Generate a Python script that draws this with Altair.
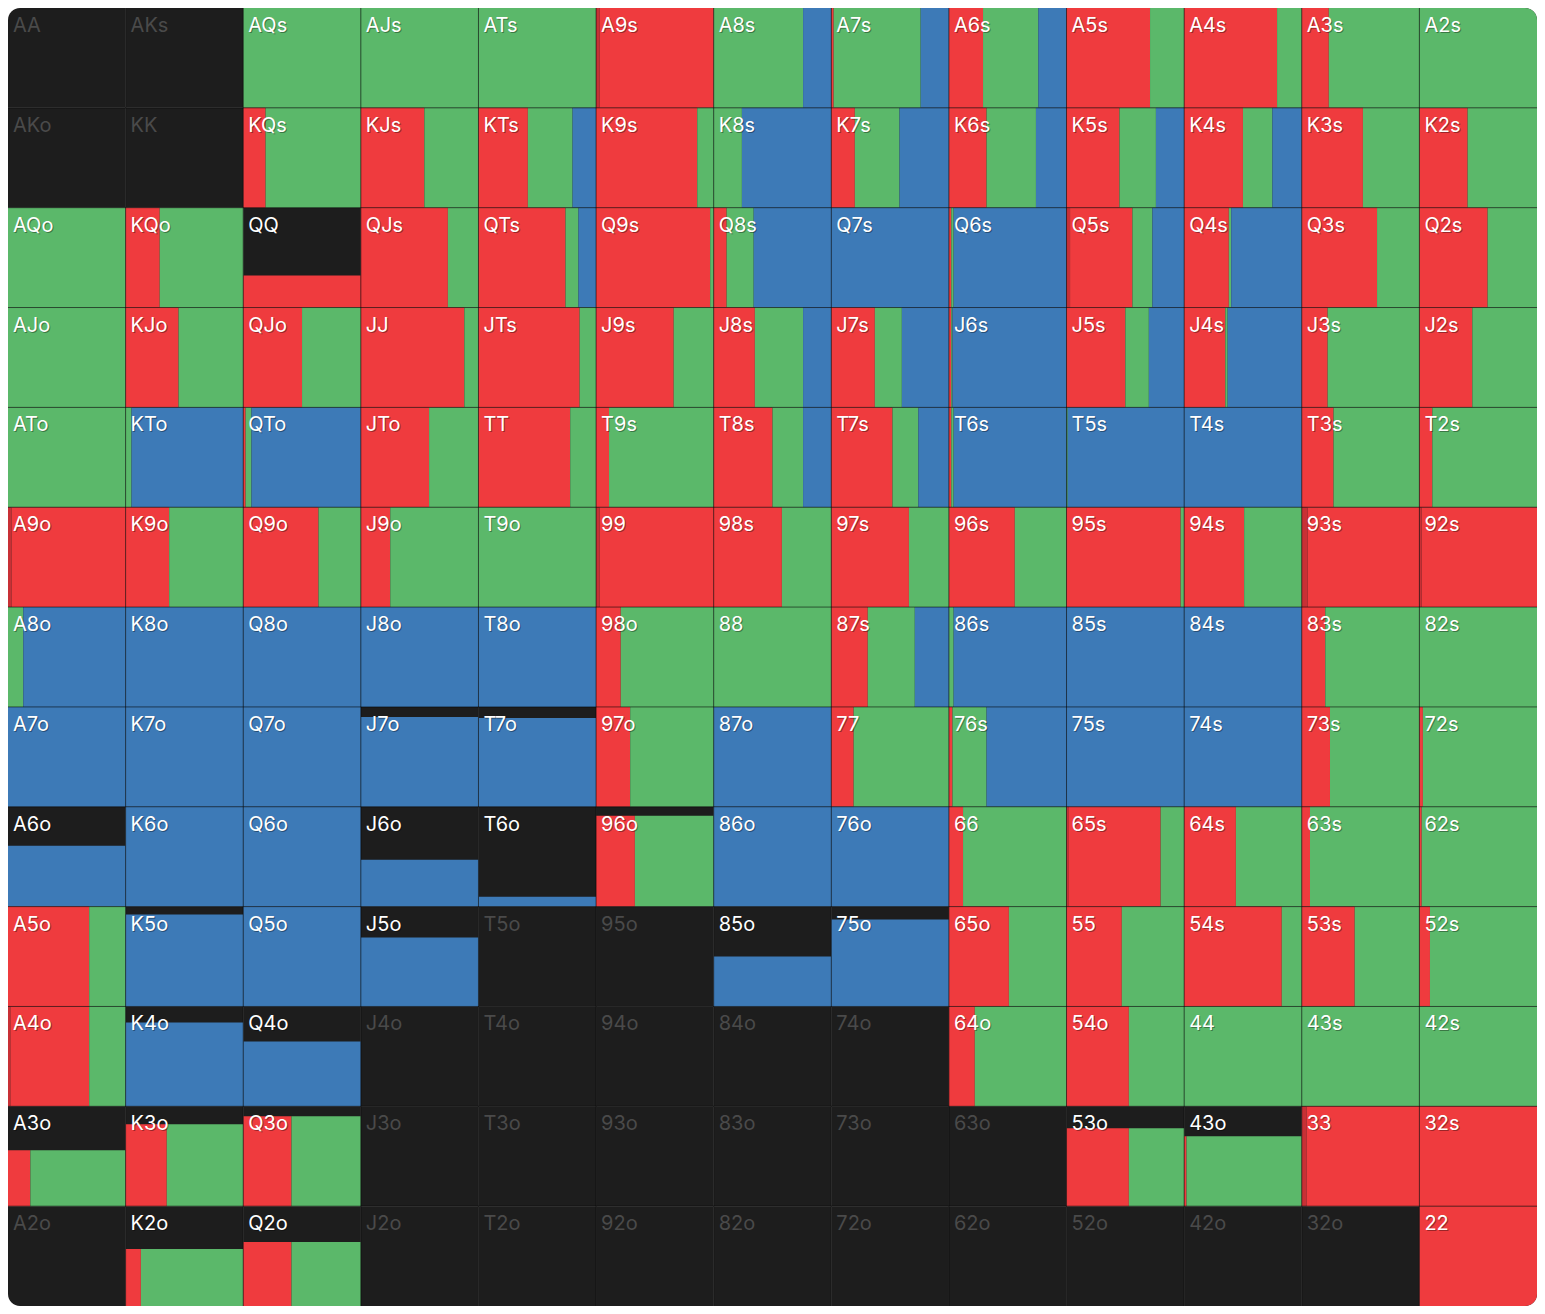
import altair as alt
import pandas as pd

RANKS = list("AKQJT98765432")

# percent of the cell height that is in range (coloured part, from bottom)
WEIGHT = [
    [0, 0, 100, 100, 100, 100, 100, 100, 100, 100, 100, 100, 100],
    [0, 0, 100, 100, 100, 100, 100, 100, 100, 100, 100, 100, 100],
    [100, 100, 32, 100, 100, 100, 100, 100, 100, 100, 100, 100, 100],
    [100, 100, 100, 100, 100, 100, 100, 100, 100, 100, 100, 100, 100],
    [100, 100, 100, 100, 100, 100, 100, 100, 100, 100, 100, 100, 100],
    [100, 100, 100, 100, 100, 100, 100, 100, 100, 100, 100, 100, 100],
    [100, 100, 100, 100, 100, 100, 100, 100, 100, 100, 100, 100, 100],
    [100, 100, 100, 90, 89, 100, 100, 100, 100, 100, 100, 100, 100],
    [61, 100, 100, 47, 10, 91, 100, 100, 100, 100, 100, 100, 100],
    [100, 92, 100, 69, 0, 0, 50, 87, 100, 100, 100, 100, 100],
    [100, 84, 65, 0, 0, 0, 0, 0, 100, 100, 100, 100, 100],
    [56, 82, 90, 0, 0, 0, 0, 0, 0, 78, 70, 100, 100],
    [0, 57, 64, 0, 0, 0, 0, 0, 0, 0, 0, 0, 100],
]

# action mix (percent of the coloured width), left to right
ALLIN = [
    [0, 0, 0, 0, 0, 3, 0, 0, 0, 0, 0, 0, 0],
    [0, 0, 0, 0, 0, 0, 0, 0, 0, 0, 0, 0, 0],
    [0, 0, 0, 0, 0, 0, 0, 0, 0, 3, 0, 0, 0],
    [0, 0, 0, 0, 0, 0, 0, 0, 0, 0, 0, 0, 0],
    [0, 0, 0, 0, 0, 0, 0, 0, 0, 0, 0, 0, 0],
    [3, 0, 0, 0, 0, 3, 0, 0, 0, 0, 0, 5, 2],
    [0, 0, 0, 0, 0, 0, 0, 0, 0, 0, 0, 0, 0],
    [0, 0, 0, 0, 0, 0, 0, 0, 0, 0, 0, 0, 0],
    [0, 0, 0, 0, 0, 0, 0, 0, 0, 2, 0, 0, 0],
    [0, 0, 0, 0, 0, 0, 0, 0, 0, 0, 0, 0, 0],
    [2, 0, 0, 0, 0, 0, 0, 0, 0, 0, 0, 0, 0],
    [0, 0, 0, 0, 0, 0, 0, 0, 0, 0, 0, 4, 0],
    [0, 0, 0, 0, 0, 0, 0, 0, 0, 0, 0, 0, 0],
]
RAISE = [
    [0, 0, 0, 0, 0, 97, 0, 2, 29, 71, 79, 23, 0],
    [0, 0, 19, 54, 42, 86, 0, 20, 32, 45, 50, 52, 41],
    [0, 29, 100, 74, 74, 97, 11, 0, 2, 53, 38, 64, 58],
    [0, 45, 50, 88, 86, 66, 35, 37, 2, 50, 35, 22, 45],
    [0, 0, 2, 58, 78, 11, 50, 52, 2, 0, 0, 27, 11],
    [97, 37, 64, 25, 0, 97, 58, 66, 56, 97, 51, 95, 98],
    [0, 0, 0, 0, 0, 21, 0, 31, 0, 0, 0, 20, 0],
    [0, 0, 0, 0, 0, 29, 0, 19, 3, 0, 0, 24, 3],
    [0, 0, 0, 0, 0, 33, 0, 0, 12, 78, 44, 7, 2],
    [69, 0, 0, 0, 0, 0, 0, 0, 51, 47, 83, 45, 9],
    [67, 0, 0, 0, 0, 0, 0, 0, 22, 53, 0, 0, 0],
    [19, 35, 41, 0, 0, 0, 0, 0, 0, 53, 2, 96, 100],
    [0, 13, 41, 0, 0, 0, 0, 0, 0, 0, 0, 0, 100],
]
CALL = [
    [0, 0, 100, 100, 100, 0, 76, 74, 47, 29, 21, 77, 100],
    [0, 0, 81, 46, 38, 14, 24, 38, 42, 31, 25, 48, 59],
    [100, 71, 0, 26, 11, 3, 23, 0, 2, 17, 2, 36, 42],
    [100, 55, 50, 12, 14, 34, 41, 23, 1, 20, 2, 78, 55],
    [100, 5, 5, 42, 22, 89, 26, 22, 2, 1, 0, 73, 89],
    [0, 63, 36, 75, 100, 0, 42, 34, 44, 3, 49, 0, 0],
    [13, 0, 0, 0, 0, 79, 100, 40, 4, 0, 0, 80, 100],
    [0, 0, 0, 0, 0, 71, 0, 81, 29, 0, 0, 76, 97],
    [0, 0, 0, 0, 0, 67, 0, 0, 88, 20, 56, 93, 98],
    [31, 0, 0, 0, 0, 0, 0, 0, 49, 53, 17, 55, 91],
    [31, 0, 0, 0, 0, 0, 0, 0, 78, 47, 100, 100, 100],
    [81, 65, 59, 0, 0, 0, 0, 0, 0, 47, 98, 0, 0],
    [0, 87, 59, 0, 0, 0, 0, 0, 0, 0, 0, 0, 0],
]
FOLD = [
    [0, 0, 0, 0, 0, 0, 24, 24, 24, 0, 0, 0, 0],
    [0, 0, 0, 0, 20, 0, 76, 42, 26, 24, 25, 0, 0],
    [0, 0, 0, 0, 15, 0, 66, 100, 96, 27, 60, 0, 0],
    [0, 0, 0, 0, 0, 0, 24, 40, 97, 30, 63, 0, 0],
    [0, 95, 93, 0, 0, 0, 24, 26, 96, 99, 100, 0, 0],
    [0, 0, 0, 0, 0, 0, 0, 0, 0, 0, 0, 0, 0],
    [87, 100, 100, 100, 100, 0, 0, 29, 96, 100, 100, 0, 0],
    [100, 100, 100, 100, 100, 0, 100, 0, 68, 100, 100, 0, 0],
    [100, 100, 100, 100, 100, 0, 100, 100, 0, 0, 0, 0, 0],
    [0, 100, 100, 100, 0, 0, 100, 100, 0, 0, 0, 0, 0],
    [0, 100, 100, 0, 0, 0, 0, 0, 0, 0, 0, 0, 0],
    [0, 0, 0, 0, 0, 0, 0, 0, 0, 0, 0, 0, 0],
    [0, 0, 0, 0, 0, 0, 0, 0, 0, 0, 0, 0, 0],
]

ACTIONS = ["allin", "raise", "call", "fold"]
ACTION_COLORS = ["#c83035", "#ef3b3e", "#5bb86a", "#3d7ab7"]
CELL_BG = "#1d1d1d"
LABEL_ON = "#ffffff"
LABEL_OFF = "#4a4a4a"
R = 12

corner_of = {(0, 0): "tl", (0, 12): "tr", (12, 0): "bl", (12, 12): "br"}

cells, segs = [], []
for r in range(13):
    for c in range(13):
        if r == c:
            lab = RANKS[r] + RANKS[c]
        elif c > r:
            lab = RANKS[r] + RANKS[c] + "s"
        else:
            lab = RANKS[c] + RANKS[r] + "o"
        w = WEIGHT[r][c]
        corner = corner_of.get((r, c), "none")
        cells.append(dict(label=lab, c0=c, c1=c + 1, r0=r, r1=r + 1, corner=corner,
                          tcolor=LABEL_ON if w > 0 else LABEL_OFF))
        if w > 0:
            start = 0.0
            for act, arr in zip(ACTIONS, [ALLIN, RAISE, CALL, FOLD]):
                v = arr[r][c]
                if v > 0:
                    segs.append(dict(action=act, x0=c + start / 100, x1=c + (start + v) / 100,
                                     y0=r + 1 - w / 100, y1=r + 1, corner=corner))
                    start += v

cells_df = pd.DataFrame(cells)
segs_df = pd.DataFrame(segs)
GRID = pd.DataFrame({"g": list(range(1, 13))})

xs = alt.Scale(domain=[0, 13], nice=False, zero=False)
ys = alt.Scale(domain=[0, 13], nice=False, zero=False, reverse=True)

corner_props = {"tl": "cornerRadiusTopLeft", "tr": "cornerRadiusTopRight",
                "bl": "cornerRadiusBottomLeft", "br": "cornerRadiusBottomRight"}


def rect_layers(df, enc, **mk):
    out = [alt.Chart(df).transform_filter("datum.corner == 'none'").mark_rect(**mk).encode(**enc)]
    for key, prop in corner_props.items():
        kw = dict(mk)
        kw[prop] = R
        out.append(alt.Chart(df).transform_filter(f"datum.corner == '{key}'").mark_rect(**kw).encode(**enc))
    return out


bg_enc = dict(
    x=alt.X("c0:Q", scale=xs, axis=None), x2="c1:Q",
    y=alt.Y("r0:Q", scale=ys, axis=None), y2="r1:Q",
)
seg_enc = dict(
    x=alt.X("x0:Q", scale=xs, axis=None), x2="x1:Q",
    y=alt.Y("y0:Q", scale=ys, axis=None), y2="y1:Q",
    color=alt.Color("action:N", scale=alt.Scale(domain=ACTIONS, range=ACTION_COLORS), legend=None),
)

bg_layers = rect_layers(cells_df, bg_enc, color=CELL_BG)
seg_layers = rect_layers(segs_df, seg_enc, opacity=1)

vgrid = alt.Chart(GRID).mark_rule(color="#000000", opacity=0.55, strokeWidth=1).encode(
    x=alt.X("g:Q", scale=xs, axis=None))
hgrid = alt.Chart(GRID).mark_rule(color="#000000", opacity=0.55, strokeWidth=1).encode(
    y=alt.Y("g:Q", scale=ys, axis=None))

txt_enc = dict(
    x=alt.X("c0:Q", scale=xs, axis=None),
    y=alt.Y("r0:Q", scale=ys, axis=None),
    text="label:N",
)
shadow = alt.Chart(cells_df).transform_filter("datum.tcolor == '#ffffff'").mark_text(
    align="left", baseline="alphabetic", dx=6, dy=25, font="Inter", fontSize=20,
    color="#000000", opacity=0.35).encode(**txt_enc)
labels = alt.Chart(cells_df).mark_text(
    align="left", baseline="alphabetic", dx=5, dy=24, font="Inter", fontSize=20).encode(
    color=alt.Color("tcolor:N", scale=None), **txt_enc)

chart = alt.layer(*bg_layers, *seg_layers, vgrid, hgrid, shadow, labels).properties(
    width=1529, height=1298, padding=0, autosize=alt.AutoSizeParams(type="none")
).configure_view(strokeWidth=0)

chart.save("out.html", embed_options={"renderer": "svg", "actions": False})
